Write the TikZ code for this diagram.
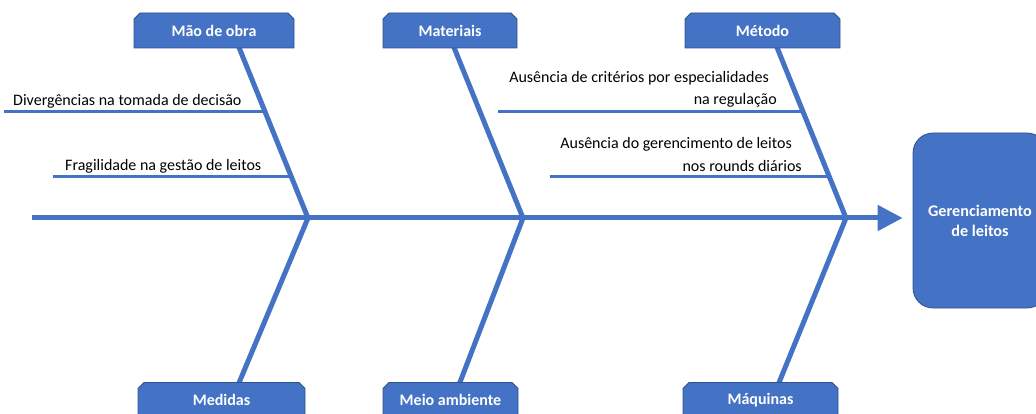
\documentclass[tikz,border=0pt]{standalone}
\usepackage{fontspec}
\setmainfont{Carlito}
\usetikzlibrary{arrows.meta,shapes.misc,backgrounds}
\definecolor{bl}{HTML}{4472C4}
\definecolor{bd}{HTML}{2F528F}
\begin{document}
\begin{tikzpicture}[x=1pt,y=-1pt,
  hdr/.style={chamfered rectangle, chamfered rectangle corners={north west,north east},
    chamfered rectangle xsep=3pt, chamfered rectangle ysep=3pt,
    fill=bl, draw=bd, line width=0.8pt, text=white,
    font=\fontsize{16}{19}\selectfont\bfseries, inner sep=0pt, minimum height=35pt},
  effbox/.style={rounded corners=20pt, fill=bl, draw=bd, line width=0.8pt, text=white,
    font=\fontsize{16.2}{20}\selectfont\bfseries, align=center, inner sep=0pt,
    minimum width=134pt, minimum height=175pt},
  bone/.style={draw=bl, line width=5pt},
  subbone/.style={draw=bl, line width=3pt},
  cause/.style={font=\fontsize{16}{19}\selectfont, inner sep=0pt, text=black}]
\useasboundingbox (0,0) rectangle (1036,414);
\clip (0,0) rectangle (1036,414);

% header boxes
\node[hdr, minimum width=160pt] (h1) at (214,30.5) {Mão de obra};
\node[hdr, minimum width=134pt] (h2) at (450,30.5) {Materiais};
\node[hdr, minimum width=155pt] (h3) at (762.5,30.5) {Método};
\node[hdr, minimum width=167pt] (f1) at (221.5,400) {Medidas};
\node[hdr, minimum width=135pt] (f2) at (450.5,400) {Meio ambiente};
\node[hdr, minimum width=155pt] (f3) at (760.5,400) {Máquinas};

% effect box
\node[effbox] (eff) at (980,220.5) {Gerenciamento\\de leitos};

% spine junctions
\coordinate (s0) at (32,218);
\coordinate (j1) at (308,218);
\coordinate (j2) at (523,218);
\coordinate (j3) at (846,218);
\coordinate (t1) at (236,40);
\coordinate (t2) at (451,40);
\coordinate (t3) at (774,40);
\coordinate (u1) at (236,390);
\coordinate (u2) at (457,390);
\coordinate (u3) at (776,390);

\begin{scope}[on background layer]
  \draw[bone] (t1) -- (j1);
  \draw[bone] (t2) -- (j2);
  \draw[bone] (t3) -- (j3);
  \draw[bone] (j1) -- (u1);
  \draw[bone] (j2) -- (u2);
  \draw[bone] (j3) -- (u3);
\end{scope}

% spine with arrow
\draw[bone, -{Triangle[length=25pt,width=25pt]}, shorten >=10pt] (s0) -- (s0 -| eff.west);

% sub-bones
\coordinate (a0) at (4,112);   \coordinate (a1) at (265,112);
\coordinate (b0) at (53,177);  \coordinate (b1) at (291,177);
\coordinate (c0) at (498,112); \coordinate (c1) at (803,112);
\coordinate (d0) at (550,177); \coordinate (d1) at (830,177);
\draw[subbone] (a0) -- (a1);
\draw[subbone] (b0) -- (b1);
\draw[subbone] (c0) -- (c1);
\draw[subbone] (d0) -- (d1);

% cause texts
\node[cause, anchor=base west] (ta) at (13,106) {Divergências na tomada de decisão};
\node[cause, anchor=base west] (tb) at (65,171) {Fragilidade na gestão de leitos};
\node[cause, anchor=base east] (tc1) at (769,83) {Ausência de critérios por especialidades};
\node[cause, anchor=base east] (tc2) at (777,105) {na regulação};
\node[cause, anchor=base east] (td1) at (792,149) {Ausência do gerencimento de leitos};
\node[cause, anchor=base east] (td2) at (802,172) {nos rounds diários};
\end{tikzpicture}
\end{document}
